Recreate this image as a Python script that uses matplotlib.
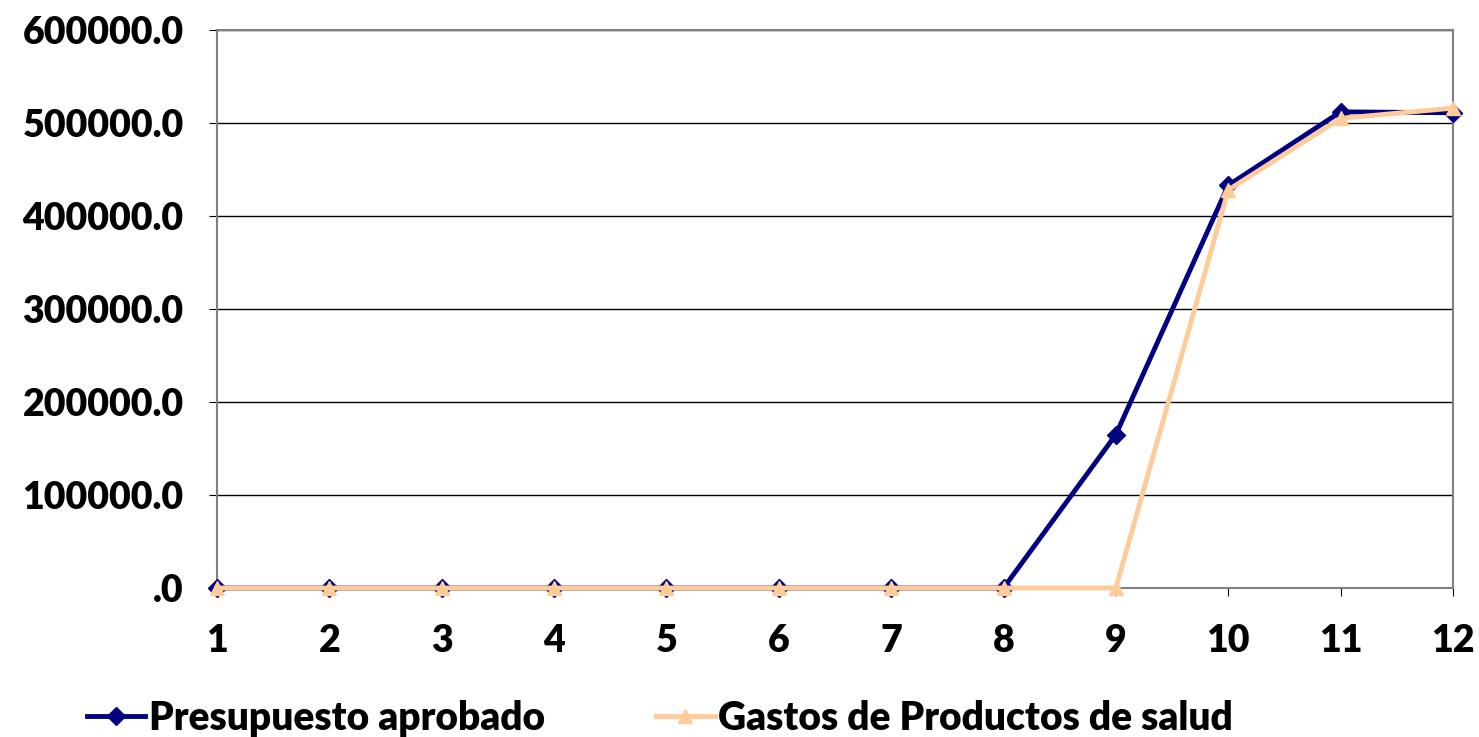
import matplotlib.pyplot as plt
from matplotlib.ticker import FuncFormatter

months = list(range(1, 13))
presupuesto = [0, 0, 0, 0, 0, 0, 0, 0, 165000, 433000, 512000, 511000]
gastos = [0, 0, 0, 0, 0, 0, 0, 0, 0, 428000, 505000, 516000]
yticks = [0, 100000, 200000, 300000, 400000, 500000, 600000]

plt.rcParams["font.family"] = ["Lato", "DejaVu Sans"]
plt.rcParams["font.weight"] = "heavy"


def fmt(v, pos):
    return ".0" if v == 0 else f"{v:.1f}"


fig = plt.figure(figsize=(14.79, 7.37), dpi=100)
ax = fig.add_axes([217 / 1479, 1 - 588 / 737, (1453 - 217) / 1479, (588 - 30) / 737])

ax.plot(months, presupuesto, color="#000080", lw=3.5, marker="D", ms=9,
        label="Presupuesto aprobado", zorder=3, clip_on=False)
ax.plot(months, gastos, color="#FFCC99", lw=3.5, marker="^", ms=10,
        label="Gastos de Productos de salud", zorder=4, clip_on=False)

ax.set_xlim(1, 12)
ax.set_ylim(0, 600000)
ax.set_xticks(months)
ax.set_yticks(yticks)
ax.yaxis.set_major_formatter(FuncFormatter(fmt))
ax.grid(axis="y", color="black", lw=1)
ax.set_axisbelow(True)
for s in ax.spines.values():
    s.set_color("#808080")
    s.set_linewidth(1.5)
ax.tick_params(axis="both", labelsize=27, length=6, direction="out", color="black")
ax.tick_params(axis="x", pad=20)
ax.tick_params(axis="y", pad=18)
for lbl in ax.get_xticklabels() + ax.get_yticklabels():
    lbl.set_fontweight("heavy")

leg = fig.legend(loc="lower left", bbox_to_anchor=(52 / 1479, -35 / 737), ncol=2,
                 frameon=False, handlelength=1.5, handletextpad=0.1,
                 columnspacing=2.85, prop={"weight": "heavy", "size": 28})

fig.savefig("out.png", dpi=100)
